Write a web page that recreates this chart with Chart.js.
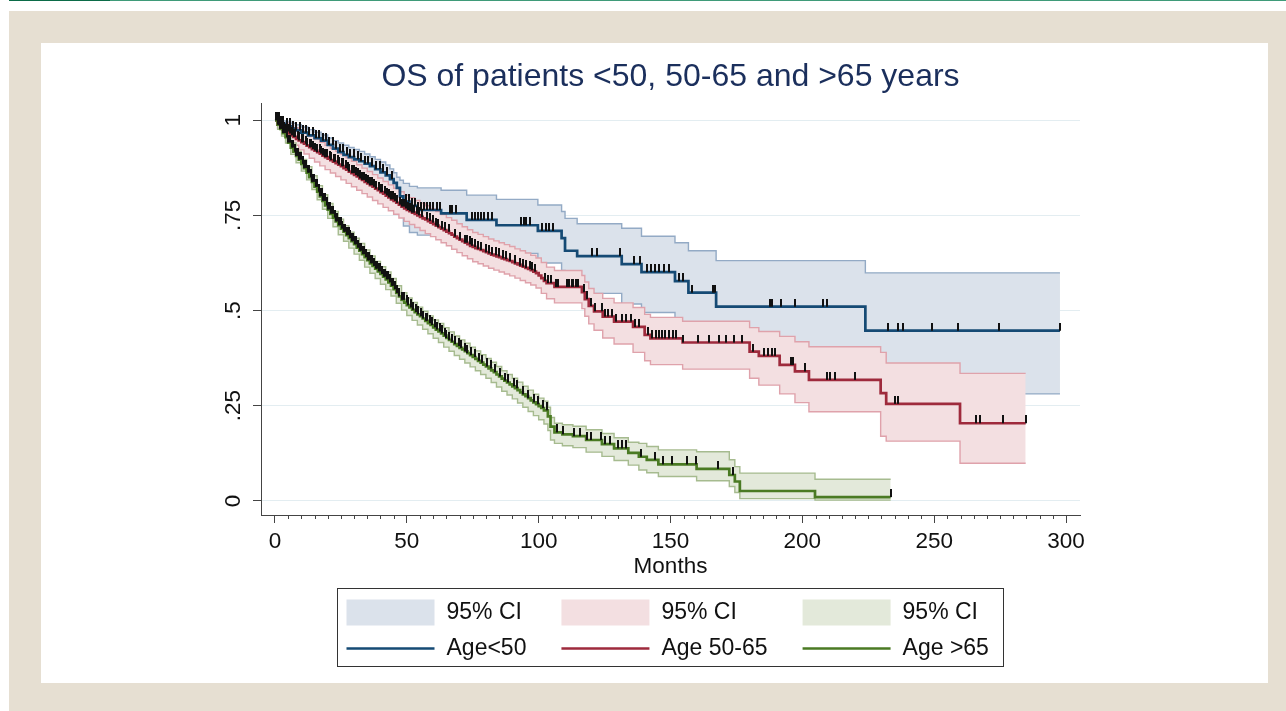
<!DOCTYPE html>
<html>
<head>
<meta charset="utf-8">
<script src="https://cdn.jsdelivr.net/npm/chart.js@4.4.1/dist/chart.umd.min.js"></script>
<style>
  html, body { margin: 0; padding: 0; background: #fff; }
  body { width: 1286px; height: 711px; position: relative; overflow: hidden; }
  #rule { position: absolute; left: 9px; top: 0; width: 1277px; height: 1px; background: #3f9b79; }
  #rule2 { position: absolute; left: 9px; top: 0; width: 101px; height: 1px; background: #0b6b47; }
  #frame { position: absolute; left: 9px; top: 11px; right: 0; bottom: 0; background: #e6dfd2; }
  #panel { position: absolute; left: 41px; top: 43px; width: 1227px; height: 640px; background: #fff; }
</style>
</head>
<body>
<div id="rule"></div><div id="rule2"></div>
<div id="frame"></div>
<div id="panel"><canvas id="chart" width="1227" height="640"></canvas></div>
<script>
// axis ticks
const xTicks = [0, 50, 100, 150, 200, 250, 300];
const yTicks = [0, 0.25, 0.5, 0.75, 1];
const yTickLabels = ['0', '.25', '.5', '.75', '1'];
const groupLabels = ['Age<50', 'Age 50-65', 'Age >65'];
const ciLabel = '95% CI';

// Age<50 : KM estimate (months) and 95% CI
const u50Time  = [0, 2, 4, 6, 8, 10, 12.5, 15, 17.5, 20, 22, 24, 26, 28, 30, 32, 34, 36, 38, 40, 42,
                  43.6, 45, 46.2, 47.4, 48.7, 51, 54, 63, 72.7, 84, 99.7, 108.7, 110, 114.6, 131.5,
                  139, 151.7, 156.8, 167.3, 223.9, 297.7];
const u50Surv  = [1, .990, .984, .978, .973, .967, .960, .953, .946, .935, .925, .916, .909, .903, .897,
                  .892, .886, .879, .871, .863, .855, .845, .835, .822, .800, .786, .775, .764, .755,
                  .738, .724, .709, .690, .657, .643, .622, .601, .577, .547, .510, .447, .447];
const u50CiTime = u50Time;
const u50Upper = [1, .998, .995, .992, .988, .982, .975, .968, .961, .953, .946, .940, .934, .928, .923,
                  .918, .911, .904, .897, .890, .882, .872, .862, .850, .842, .834, .826, .822, .816,
                  .803, .792, .777, .760, .742, .728, .716, .695, .678, .657, .631, .599, .599];
const u50Lower = [1, .978, .968, .960, .953, .947, .938, .930, .921, .910, .900, .890, .881, .873, .865,
                  .858, .850, .842, .834, .825, .816, .805, .790, .768, .745, .722, .705, .698, .688,
                  .668, .650, .625, .605, .570, .545, .517, .495, .470, .440, .400, .281, .281];
const u50Censor = [1.4, 2.3, 3.1, 4.4, 5.6, 6.9, 8.1, 9.4, 10.5, 11.8, 12.9, 14.3, 15.5, 16.8, 18.2, 19.3,
                  20.6, 21.9, 23.1, 24.5, 25.8, 27.2, 28.5, 29.9, 31.3, 32.8, 34.0, 35.4, 36.8, 38.2, 39.7,
                  41.1, 42.6, 44.2, 49.6, 50.7, 51.9, 53.0, 54.1, 55.3, 56.4, 57.6, 58.9, 60.1, 61.4, 62.7,
                  66.4, 67.3, 68.5, 74.6, 75.7, 76.9, 78.1, 79.4, 80.9, 82.4, 93.4, 94.3, 95.2, 96.7, 101.2,
                  102.6, 104.1, 105.5, 120.2, 122.0, 131.0, 136.1, 138.6, 141.2, 142.5, 144.0, 145.8, 147.4,
                  149.6, 153.2, 154.6, 158.3, 166.2, 166.9, 187.8, 188.6, 191.9, 197.2, 207.7, 209.5, 232.6,
                  236.2, 238.3, 249.1, 259.0, 274.7, 297.7];

// Age 50-65
const m50Time  = [0, 1, 2, 3, 4, 5, 6, 7, 8, 9, 10, 11, 12, 13, 14, 15, 16, 17, 18, 19, 20, 21, 22, 23, 24,
                  25, 26, 27, 28, 29, 30, 31, 32, 33, 34, 35, 36, 37, 38, 39, 40, 41, 42, 43, 44, 45, 46, 47,
                  48, 49, 50, 51, 52, 53, 54, 55, 56, 57, 58, 59, 60, 61, 62, 63, 64, 65, 66, 67, 68, 69, 70,
                  71, 72, 73, 74, 75, 76, 77, 78, 79, 80, 81, 82, 83, 84, 85, 86, 87, 88, 89, 90, 91, 92, 93,
                  94, 95, 96, 97, 98, 99, 100, 101, 102, 103, 106, 116.4, 117.5, 119, 121, 124.3, 128.6, 135.8,
                  140.2, 142.4, 154.6, 180, 183.5, 191.4, 197.2, 202.5, 229.7, 231.8, 259.8, 284.7];
const m50Surv  = [1, .988, .981, .975, .970, .965, .960, .956, .951, .947, .942, .938, .933, .929, .924,
                  .920, .916, .912, .907, .903, .899, .895, .891, .887, .883, .879, .874, .870, .865, .861,
                  .856, .852, .847, .843, .838, .834, .829, .825, .820, .816, .811, .807, .802, .797, .792,
                  .788, .783, .778, .773, .768, .764, .761, .757, .754, .750, .746, .742, .739, .735, .731,
                  .727, .723, .719, .715, .711, .707, .703, .699, .694, .690, .686, .682, .678, .674, .670,
                  .667, .664, .662, .659, .656, .653, .650, .647, .645, .642, .640, .637, .635, .632, .630,
                  .627, .624, .621, .618, .615, .612, .609, .606, .602, .598, .592, .585, .578, .572, .562,
                  .548, .530, .512, .498, .484, .471, .457, .436, .427, .416, .392, .381, .357, .340, .318,
                  .283, .255, .204, .204];
const m50CiTime = [0, 1, 3, 5, 7, 9, 11, 13, 15, 17, 19, 21, 23, 25, 27, 29, 31, 33, 35, 37, 39, 41, 43, 45,
                  47, 49, 51, 53, 55, 57, 59, 61, 63, 65, 67, 69, 71, 73, 75, 77, 79, 81, 83, 85, 87, 89, 91,
                  93, 95, 97, 99, 101, 103, 106, 116.4, 117.5, 119, 121, 124.3, 128.6, 135.8, 140.2, 142.4,
                  154.6, 180, 183.5, 191.4, 197.2, 202.5, 229.7, 231.8, 259.8, 284.7];
const m50Upper = [1, .997, .992, .986, .980, .973, .966, .958, .950, .942, .934, .926, .918, .910, .901, .892,
                  .883, .874, .865, .857, .848, .839, .830, .821, .812, .803, .796, .789, .782, .775, .767,
                  .760, .752, .744, .737, .728, .720, .712, .705, .700, .694, .688, .683, .678, .673, .668,
                  .662, .657, .651, .645, .638, .626, .614, .605, .592, .575, .558, .545, .532, .520, .508,
                  .490, .482, .472, .455, .445, .432, .418, .405, .390, .362, .335, .335];
const m50Lower = [1, .978, .960, .946, .934, .922, .911, .900, .890, .880, .870, .861, .852, .843, .834, .825,
                  .816, .807, .798, .789, .780, .771, .762, .753, .743, .734, .726, .718, .710, .702, .694,
                  .686, .678, .670, .661, .652, .644, .636, .628, .623, .617, .611, .606, .601, .596, .591,
                  .585, .579, .573, .567, .559, .545, .531, .520, .505, .485, .465, .448, .428, .412, .390,
                  .368, .358, .346, .322, .304, .281, .258, .234, .170, .157, .099, .099];
const m50Censor = [0.4, 1.2, 1.8, 2.7, 3.3, 4.2, 4.8, 5.6, 6.3, 7.1, 7.7, 8.6, 9.2, 10.1, 10.7, 11.6, 12.3,
                  13.1, 13.7, 14.6, 15.2, 16.1, 16.9, 17.5, 18.4, 19.0, 19.9, 20.7, 21.3, 22.2, 22.9, 23.8,
                  24.4, 25.3, 25.9, 26.8, 27.6, 28.2, 29.1, 29.9, 30.6, 31.5, 32.1, 33.0, 33.8, 34.4, 35.3,
                  36.2, 36.8, 37.7, 38.4, 39.3, 40.1, 40.7, 41.6, 42.5, 43.1, 44.0, 44.9, 45.5, 46.4, 47.3,
                  48.0, 48.9, 49.6, 50.5, 51.3, 52.1, 52.9, 53.9, 54.6, 55.7, 57.5, 58.7, 59.8, 61.1, 62.0,
                  63.4, 64.5, 65.9, 68.1, 70.3, 72.0, 72.8, 73.9, 74.7, 75.9, 77.1, 78.2, 80.0, 81.3, 82.3,
                  83.7, 84.8, 86.6, 87.7, 89.1, 91.2, 93.0, 94.2, 95.2, 96.6, 97.5, 98.8, 102.4, 103.7, 104.8,
                  106.5, 107.3, 110.6, 111.4, 112.5, 113.2, 114.3, 115.0, 117.1, 118.2, 119.7, 121.4, 124.0,
                  125.3, 126.4, 127.9, 129.4, 131.6, 133.1, 135.0, 136.6, 138.1, 141.5, 143.1, 144.5, 145.6,
                  146.9, 148.1, 149.4, 151.0, 152.2, 154.8, 160.4, 164.7, 168.3, 171.2, 174.1, 177.0, 181.2,
                  185.5, 187.0, 188.4, 189.8, 195.8, 196.3, 201.0, 209.2, 210.4, 212.2, 220.0, 235.0, 236.2,
                  266.0, 267.3, 276.0, 284.7];

// Age >65
const o65Time  = [0, 1, 2, 3, 4, 5, 6, 7, 8, 9, 10, 11, 12, 13, 14, 15, 16, 17, 18, 19, 20, 21, 22, 23, 24,
                  25, 26, 27, 28, 29, 30, 31, 32, 33, 34, 35, 36, 37, 38, 39, 40, 41, 42, 43, 44, 45, 46, 47,
                  48, 49, 50, 51, 52, 53, 54, 55, 56, 57, 58, 59, 60, 61, 62, 63, 64, 65, 66, 67, 68, 69, 70,
                  71, 72, 73, 74, 75, 76, 77, 78, 79, 80, 81, 82, 83, 84, 85, 86, 87, 88, 89, 90, 91, 92, 93,
                  94, 95, 96, 97, 98, 99, 100, 101, 102, 103.5, 104.5, 106, 109, 113, 118, 124, 128.6, 134,
                  138, 141, 145.4, 159.9, 172.3, 174.4, 176.3, 204.8, 233.5];
const o65Surv  = [1, .988, .977, .966, .955, .941, .928, .917, .906, .896, .885, .874, .862, .850, .838,
                  .825, .812, .800, .788, .776, .765, .754, .744, .734, .724, .715, .707, .698, .690, .682,
                  .674, .665, .657, .648, .640, .632, .624, .617, .610, .603, .596, .589, .582, .574, .565,
                  .556, .546, .537, .528, .521, .514, .508, .502, .496, .490, .485, .479, .473, .467, .462,
                  .456, .450, .445, .440, .434, .428, .423, .418, .412, .407, .402, .398, .393, .388, .383,
                  .378, .373, .368, .363, .358, .353, .348, .343, .338, .332, .327, .321, .316, .311, .306,
                  .301, .296, .291, .285, .280, .275, .270, .264, .259, .254, .249, .244, .238, .222, .195,
                  .180, .175, .170, .160, .149, .138, .126, .116, .108, .096, .084, .068, .051, .026, .010,
                  .010];
const o65CiTime = [0, 1, 2.5, 4, 6, 8, 10, 12, 14, 16, 18, 20, 22, 24, 26, 28, 30, 32, 34, 36, 38, 40, 42, 44,
                  46, 48, 50, 52, 54, 56, 58, 60, 62, 64, 66, 68, 70, 72, 74, 76, 78, 80, 82, 84, 86, 88, 90,
                  92, 94, 96, 98, 100, 102, 103.5, 104.5, 106, 109, 113, 118, 124, 128.6, 134, 138, 141, 145.4,
                  159.9, 172.3, 174.4, 176.3, 204.8, 233.5];
const o65Upper = [1, .996, .982, .967, .940, .918, .897, .878, .854, .828, .804, .781, .760, .740, .723, .706,
                  .690, .676, .659, .643, .629, .615, .601, .584, .565, .547, .533, .521, .509, .498, .486,
                  .475, .466, .455, .444, .433, .423, .414, .404, .394, .384, .374, .364, .353, .342, .332,
                  .322, .312, .301, .291, .280, .270, .262, .246, .219, .204, .200, .196, .187, .177, .166,
                  .154, .151, .143, .134, .129, .108, .090, .073, .057, .057];
const o65Lower = [1, .976, .958, .940, .910, .888, .866, .843, .818, .791, .766, .742, .720, .699, .682, .664,
                  .648, .632, .614, .598, .584, .569, .555, .538, .519, .501, .487, .474, .462, .451, .439,
                  .427, .416, .404, .393, .382, .372, .362, .352, .342, .332, .322, .311, .299, .288, .278,
                  .268, .257, .246, .235, .224, .213, .202, .185, .160, .151, .145, .140, .128, .117, .106,
                  .094, .081, .074, .064, .053, .038, .022, .006, .002, .002];
const o65Censor = [0.3, 0.8, 1.5, 2.0, 2.7, 3.2, 3.9, 4.6, 5.1, 5.8, 6.3, 6.9, 7.6, 8.1, 8.8, 9.3, 9.9, 10.6,
                  11.1, 11.8, 12.4, 12.9, 13.6, 14.1, 14.8, 15.4, 15.9, 16.6, 17.1, 17.8, 18.4, 18.9, 19.6,
                  20.2, 20.7, 21.4, 21.9, 22.6, 23.2, 23.7, 24.4, 24.9, 25.6, 26.2, 26.7, 27.4, 27.9, 28.6,
                  29.2, 29.7, 30.4, 30.9, 31.6, 32.2, 32.7, 33.4, 33.9, 34.6, 35.2, 35.7, 36.4, 36.9, 37.6,
                  38.2, 38.7, 39.4, 39.9, 40.6, 41.2, 41.7, 42.4, 42.9, 43.6, 44.2, 44.8, 45.4, 46.3, 47.1,
                  48.1, 48.9, 49.9, 50.6, 51.7, 52.4, 53.5, 54.2, 55.3, 56.0, 57.1, 57.8, 58.9, 59.6, 60.7,
                  61.4, 62.5, 63.2, 64.3, 65.0, 66.1, 67.3, 68.2, 69.7, 70.6, 72.1, 73.0, 74.5, 75.8, 77.5,
                  78.7, 80.5, 81.8, 83.5, 85.4, 87.1, 88.4, 90.5, 91.9, 94.1, 96.0, 98.3, 99.9, 101.6, 103.0,
                  107.0, 109.1, 113.5, 115.6, 118.5, 120.0, 123.6, 125.0, 127.2, 130.1, 131.5, 133.0, 139.0,
                  144.1, 147.3, 150.4, 156.1, 159.7, 168.1, 173.6, 233.5];

const lineColors = ['#154a74', '#9e2a3c', '#4a7a23'];
const ciFills    = ['#dbe2eb', '#f3dfe1', '#e3e9da'];
const ciEdges    = ['#93aac5', '#dfa2ab', '#a6bb8f'];

const groups = [
  { time: u50Time, surv: u50Surv, ciTime: u50CiTime, upper: u50Upper, lower: u50Lower, censor: u50Censor },
  { time: m50Time, surv: m50Surv, ciTime: m50CiTime, upper: m50Upper, lower: m50Lower, censor: m50Censor },
  { time: o65Time, surv: o65Surv, ciTime: o65CiTime, upper: o65Upper, lower: o65Lower, censor: o65Censor }
];

function pts(time, vals) {
  return time.map((t, i) => ({ x: t, y: vals[i] }));
}

// survival value in effect at time t (puts the censor mark on its curve)
function survAt(time, surv, t) {
  let v = surv[0];
  for (let i = 0; i < time.length && time[i] <= t; i++) v = surv[i];
  return v;
}

// censor mark: short vertical stroke rising from the curve
const tickMark = document.createElement('canvas');
tickMark.width = 2;
tickMark.height = 16;
const tctx = tickMark.getContext('2d');
tctx.fillStyle = '#111';
tctx.fillRect(0, 0, 2, 8);

const datasets = [];
let order = 20;
groups.forEach((g, i) => {
  datasets.push({
    label: ciLabel, data: pts(g.ciTime, g.upper), stepped: true,
    borderColor: ciEdges[i], borderWidth: 1.4, backgroundColor: ciFills[i],
    fill: '+1', pointRadius: 0, order: order--
  });
  datasets.push({
    label: ciLabel + ' lower', data: pts(g.ciTime, g.lower), stepped: true,
    borderColor: ciEdges[i], borderWidth: 1.4, fill: false, pointRadius: 0, order: order--
  });
});
groups.forEach((g, i) => {
  datasets.push({
    label: groupLabels[i], data: pts(g.time, g.surv), stepped: true,
    borderColor: lineColors[i], borderWidth: 2.7, fill: false, pointRadius: 0, order: order--
  });
});
groups.forEach((g, i) => {
  datasets.push({
    label: 'censored', data: g.censor.map(t => ({ x: t, y: survAt(g.time, g.surv, t) })),
    showLine: false, pointStyle: tickMark, pointRadius: 3, order: 0
  });
});

const FONT = '"Liberation Sans", Arial, Helvetica, sans-serif';
Chart.defaults.font.family = FONT;

// minor x ticks and the boxed Stata-style legend
const stataExtras = {
  id: 'stataExtras',
  afterDraw(chart) {
    const { ctx, chartArea } = chart;
    const xs = chart.scales.x;
    ctx.save();
    ctx.strokeStyle = '#444';
    ctx.lineWidth = 1;
    for (let m = xTicks[0]; m <= xTicks[xTicks.length - 1]; m += 5) {
      if (xTicks.includes(m)) continue;
      const px = Math.round(xs.getPixelForValue(m)) + 0.5;
      ctx.beginPath();
      ctx.moveTo(px, chartArea.bottom);
      ctx.lineTo(px, chartArea.bottom + 4);
      ctx.stroke();
    }

    ctx.font = '23px ' + FONT;
    const widths = groupLabels.map(l => Math.max(ctx.measureText(l).width, ctx.measureText(ciLabel).width));
    const swW = 88, gap = 12, colGap = 35, padL = 9, padR = 15, boxH = 78;
    const boxW = padL + padR + colGap * 2 + widths.reduce((a, w) => a + swW + gap + w, 0);
    const cx = (chartArea.left + chartArea.right) / 2;
    const bl = Math.round(cx - boxW / 2) + 0.5;
    const bt = Math.round(chartArea.bottom + 73) + 0.5;
    ctx.strokeStyle = '#333';
    ctx.strokeRect(bl, bt, Math.round(boxW), boxH);

    ctx.textBaseline = 'middle';
    ctx.textAlign = 'left';
    let x = bl + padL;
    groupLabels.forEach((lab, i) => {
      ctx.fillStyle = ciFills[i];
      ctx.fillRect(x, bt + 11, swW, 26);
      ctx.strokeStyle = lineColors[i];
      ctx.lineWidth = 2.7;
      ctx.beginPath();
      ctx.moveTo(x, bt + 60);
      ctx.lineTo(x + swW, bt + 60);
      ctx.stroke();
      ctx.fillStyle = '#111';
      ctx.fillText(ciLabel, x + swW + gap, bt + 24);
      ctx.fillText(lab, x + swW + gap, bt + 60);
      x += swW + gap + widths[i] + colGap;
    });
    ctx.restore();
  }
};

new Chart(document.getElementById('chart'), {
  type: 'line',
  data: { datasets },
  options: {
    responsive: false,
    animation: false,
    layout: { padding: { left: 160, right: 188, top: 0, bottom: 88 } },
    plugins: {
      legend: { display: false },
      tooltip: { enabled: false },
      title: {
        display: true, fullSize: false,
        text: 'OS of patients <50, 50-65 and >65 years',
        color: '#1b2f5c', font: { size: 32, weight: 'normal' },
        padding: { top: 14.8, bottom: 6.8 }
      }
    },
    scales: {
      x: {
        type: 'linear', min: -5.3, max: 305.3,
        afterBuildTicks: s => { s.ticks = xTicks.map(v => ({ value: v })); },
        afterFit: s => { s.height = 80; },
        grid: { drawOnChartArea: false, drawTicks: true, tickLength: 8, tickColor: '#444', tickWidth: 1 },
        border: { color: '#444', width: 1 },
        ticks: { color: '#111', font: { size: 22.5 }, padding: 5.5, maxRotation: 0, autoSkip: false },
        title: { display: true, text: 'Months', color: '#111', font: { size: 22.5 }, padding: { top: 0, bottom: 14.5 } }
      },
      y: {
        type: 'linear', min: -0.037, max: 1.045,
        afterBuildTicks: s => { s.ticks = yTicks.map(v => ({ value: v })); },
        afterFit: s => { s.width = 60; },
        grid: { color: '#e3edf1', lineWidth: 1, drawTicks: true, tickLength: 8, tickColor: '#444', tickWidth: 1 },
        border: { color: '#444', width: 1 },
        ticks: {
          color: '#111', font: { size: 22.5 }, padding: 4, minRotation: 90, maxRotation: 90,
          crossAlign: 'center', autoSkip: false,
          callback: (v, i) => yTickLabels[i]
        }
      }
    }
  },
  plugins: [stataExtras]
});
</script>
</body>
</html>
